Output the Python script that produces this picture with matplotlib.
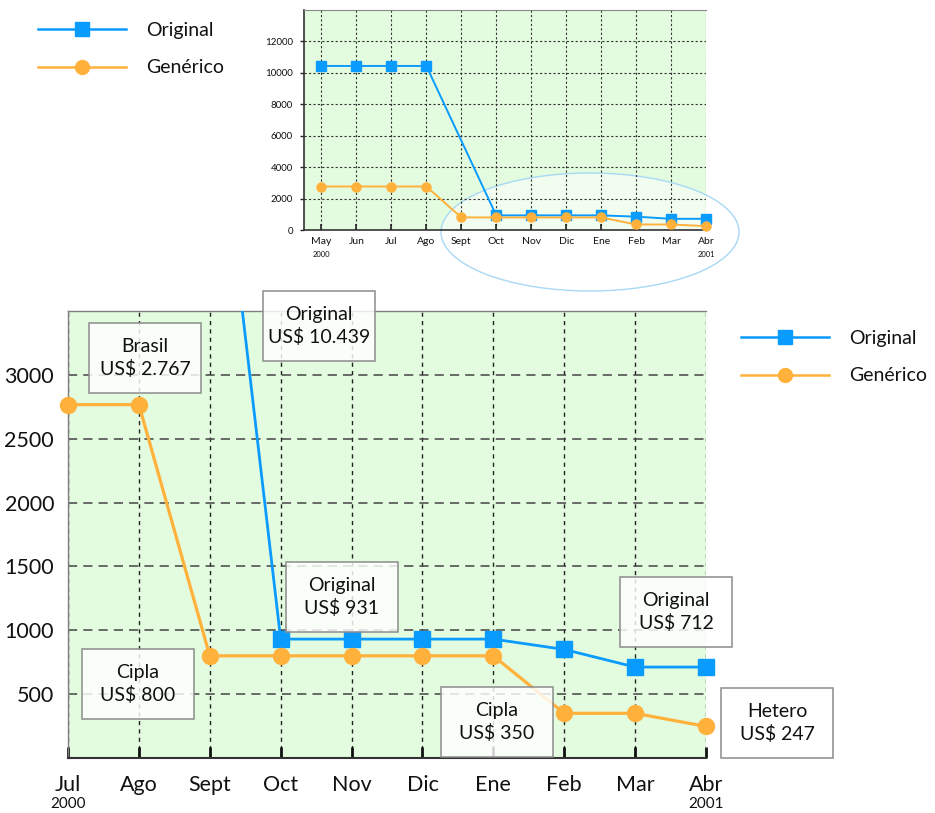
import numpy as np
import matplotlib
matplotlib.use("Agg")
import matplotlib.pyplot as plt
from matplotlib.lines import Line2D
from matplotlib.patches import Rectangle, Ellipse

plt.rcParams['font.family'] = ['Lato', 'DejaVu Sans']

# ---- data -------------------------------------------------------------
months = ["May", "Jun", "Jul", "Ago", "Sept", "Oct", "Nov", "Dic",
          "Ene", "Feb", "Mar", "Abr"]
original = [10439, 10439, 10439, 10439, np.nan, 931, 931, 931, 931, 850, 712, 712]
generico = [2767, 2767, 2767, 2767, 800, 800, 800, 800, 800, 350, 350, 247]
series_names = ["Original", "Genérico"]
first_year, last_year = "2000", "2001"
inset_yticks = [0, 2000, 4000, 6000, 8000, 10000, 12000]
main_yticks = [500, 1000, 1500, 2000, 2500, 3000]
main_start = months.index("Jul")

# price callouts: (title, series, month)
callouts = [
    ("Original", "Original", "Ago"),
    ("Brasil", "Genérico", "Ago"),
    ("Cipla", "Genérico", "Sept"),
    ("Original", "Original", "Oct"),
    ("Cipla", "Genérico", "Feb"),
    ("Original", "Original", "Mar"),
    ("Hetero", "Genérico", "Abr"),
]
# box top-left corners in pixels
callout_pos = [(263, 291), (89, 323), (82, 649), (286, 562),
               (441, 687), (620, 577), (721, 688)]
BOX_W, BOX_H = 112, 70

BLUE = "#0a9bff"
ORANGE = "#ffb13b"
GREEN = "#e3fbdf"
INK = "#111111"

W, H = 935, 813
fig = plt.figure(figsize=(W / 100, H / 100), dpi=100)


def fx(px):
    return px / W


def fy(py):
    return 1 - py / H


series = {"Original": np.array(original, float), "Genérico": np.array(generico, float)}


def us(v):
    return "US$ " + f"{int(v):,}".replace(",", ".")


# ---- inset: full period ----------------------------------------------
ax_in = fig.add_axes([fx(304), fy(230), fx(706) - fx(304), fy(10) - fy(230)])
ax_in.set_facecolor(GREEN)
xi = np.arange(len(months))
for name, color, marker, ms in [("Original", BLUE, "s", 6.5), ("Genérico", ORANGE, "o", 6.5)]:
    v = series[name]
    ok = ~np.isnan(v)
    ax_in.plot(xi[ok], v[ok], color=color, lw=1.4, marker=marker, ms=ms,
               mec=color, zorder=3, clip_on=False)
ax_in.set_xlim(-0.5, 11)
ax_in.set_ylim(0, 14000)
ax_in.set_xticks(xi)
ax_in.set_xticklabels(months)
ax_in.set_yticks(inset_yticks)
ax_in.tick_params(axis="x", direction="in", length=4, width=1.2, color="#222",
                  labelsize=7.5, pad=5, labelcolor=INK)
ax_in.tick_params(axis="y", direction="out", length=3, width=1, color="#222",
                  labelsize=7, pad=5, labelcolor=INK)
ax_in.grid(True, linestyle=(0, (2, 2)), color="#333333", lw=0.8)
for s in ["left", "bottom"]:
    ax_in.spines[s].set_color("#333333")
    ax_in.spines[s].set_linewidth(1.2)
ax_in.spines["top"].set_color("#8a8a8a")
ax_in.spines["right"].set_visible(False)
tr = ax_in.get_xaxis_transform()
ax_in.text(0, -0.11, first_year, transform=tr, fontsize=5.5, ha="center", va="center", color=INK)
ax_in.text(len(months) - 1, -0.11, last_year, transform=tr, fontsize=5.5, ha="center",
           va="center", color=INK)
ax_in.add_patch(Ellipse((fx(590), fy(232)), fx(298), 118 / H, transform=fig.transFigure,
                        facecolor=(1, 1, 1, 0.5), edgecolor="#a8d9f4", lw=1,
                        zorder=1, clip_on=False))

# ---- main panel: Jul 2000 - Abr 2001 ----------------------------------
ax = fig.add_axes([fx(68), fy(758), fx(706) - fx(68), fy(311) - fy(758)])
ax.set_facecolor(GREEN)
sub = months[main_start:]
xm = np.arange(len(sub))
clip = Rectangle((-0.06, -0.1), 1.12, 1.1, transform=ax.transAxes)
for name, color, marker, ms, lw in [("Original", BLUE, "s", 11, 2.0),
                                    ("Genérico", ORANGE, "o", 11.5, 2.3)]:
    v = series[name][main_start:]
    ok = ~np.isnan(v)
    ln, = ax.plot(xm[ok], v[ok], color=color, lw=lw, marker=marker, ms=ms,
                  mec=color, zorder=3)
    ln.set_clip_path(clip)
ax.set_xlim(0, len(sub) - 1)
ax.set_ylim(0, 3500)
ax.set_xticks(xm)
ax.set_xticklabels(sub)
ax.set_yticks(main_yticks)
ax.tick_params(axis="x", direction="in", length=8, width=2, color=INK,
               labelsize=15.5, pad=12, labelcolor=INK)
ax.tick_params(axis="y", length=0, pad=10, labelsize=15.5, labelcolor=INK)
ax.xaxis.grid(True, linestyle=(0, (3, 3)), color="#222222", lw=1)
ax.yaxis.grid(True, linestyle=(0, (6, 4)), color="#444444", lw=1.1)
ax.spines["bottom"].set_color("#333333")
ax.spines["bottom"].set_linewidth(1.5)
for s in ["left", "top"]:
    ax.spines[s].set_color("#808080")
    ax.spines[s].set_linewidth(1)
ax.spines["right"].set_visible(False)
tr = ax.get_xaxis_transform()
ax.text(0, -0.103, first_year, transform=tr, fontsize=11, ha="center", va="center", color=INK)
ax.text(len(sub) - 1, -0.103, last_year, transform=tr, fontsize=11, ha="center",
        va="center", color=INK)

# price callout boxes
for (title, name, month), (bx, by) in zip(callouts, callout_pos):
    value = series[name][months.index(month)]
    ax.add_patch(Rectangle((fx(bx), fy(by + BOX_H)), BOX_W / W, BOX_H / H,
                           transform=fig.transFigure, facecolor=(1, 1, 1, 0.82),
                           edgecolor="#8c8c8c", lw=1.1, zorder=5, clip_on=False))
    ax.text(fx(bx + BOX_W / 2), fy(by + BOX_H / 2), f"{title}\n{us(value)}",
            transform=fig.transFigure, ha="center", va="center", fontsize=14,
            linespacing=1.3, color=INK, zorder=6, clip_on=False)

# ---- legends ------------------------------------------------------------
handles = [Line2D([], [], color=BLUE, lw=1.8, marker="s", ms=10, mec=BLUE),
           Line2D([], [], color=ORANGE, lw=1.8, marker="o", ms=10, mec=ORANGE)]
for x0, y0 in [(38, 22), (741, 330)]:
    fig.legend(handles, series_names, loc="upper left",
               bbox_to_anchor=(fx(x0), fy(y0)), frameon=False, fontsize=14,
               handlelength=4.5, handletextpad=1.05, labelspacing=1.05,
               borderpad=0, borderaxespad=0, labelcolor=INK)

fig.savefig("out.png", dpi=100)
